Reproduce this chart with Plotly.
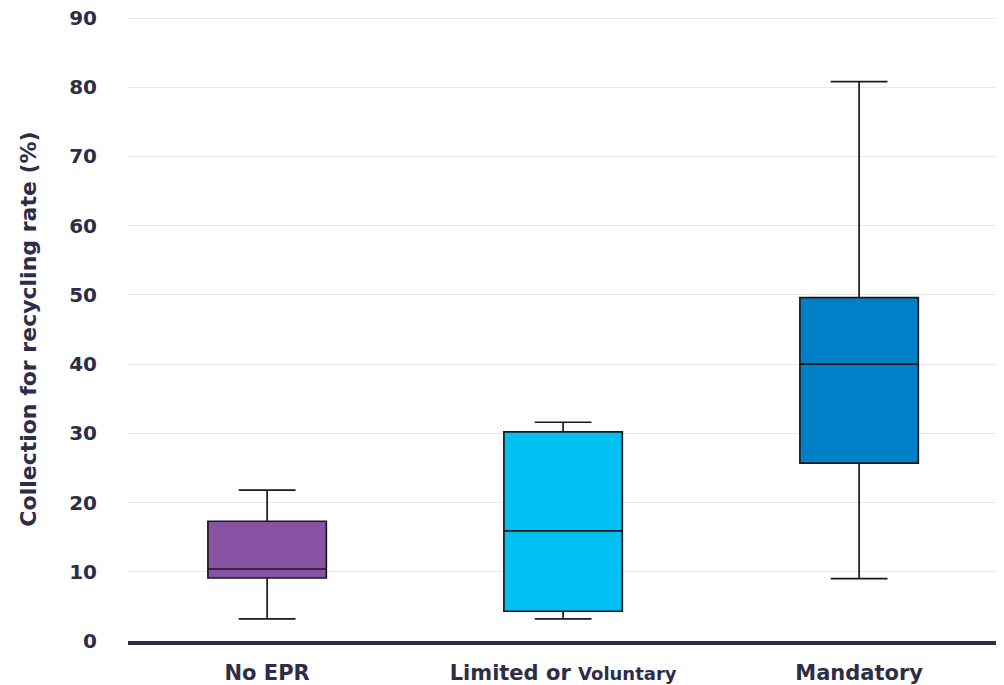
import plotly.graph_objects as go

categories = ["No EPR", "Limited or Voluntary", "Mandatory"]
tick_labels = ["No EPR", "Limited or <span style='font-size:18px'>Voluntary</span>", "Mandatory"]
y_ticks = [0, 10, 20, 30, 40, 50, 60, 70, 80, 90]
lower_whisker = [3.2, 3.2, 9.0]
q1_values = [9.1, 4.3, 25.7]
median_values = [10.4, 15.9, 40.0]
q3_values = [17.3, 30.2, 49.6]
upper_whisker = [21.8, 31.6, 80.8]
colors = ["#8853a2", "#00bff2", "#0080c6"]

text_color = "#2e2d48"
font_family = "'DejaVu Sans', sans-serif"

fig = go.Figure()
for i, cat in enumerate(categories):
    fig.add_trace(go.Box(
        x=[cat],
        q1=[q1_values[i]],
        median=[median_values[i]],
        q3=[q3_values[i]],
        lowerfence=[lower_whisker[i]],
        upperfence=[upper_whisker[i]],
        fillcolor=colors[i],
        line=dict(color="#1a1a1a", width=1.7),
        width=0.4,
        whiskerwidth=0.48,
        boxpoints=False,
        showlegend=False,
        hoverinfo="skip",
    ))

fig.update_layout(
    width=1004,
    height=685,
    margin=dict(l=120, r=12, t=9, b=52),
    paper_bgcolor="white",
    plot_bgcolor="white",
    font=dict(family=font_family, color=text_color),
    xaxis=dict(
        type="category",
        categoryorder="array",
        categoryarray=categories,
        tickmode="array",
        tickvals=categories,
        ticktext=tick_labels,
        range=[-0.47, 2.476],
        showgrid=False,
        showline=True,
        linecolor=text_color,
        linewidth=4,
        ticks="",
        automargin=False,
        ticklabelstandoff=10,
        ticklabeloverflow="allow",
        tickfont=dict(size=21, family=font_family, color=text_color, weight="bold"),
    ),
    yaxis=dict(
        range=[0, 90.15],
        tickvals=y_ticks,
        showgrid=True,
        gridcolor="#e9e9e9",
        gridwidth=1,
        zeroline=False,
        showline=False,
        ticks="",
        automargin=False,
        ticklabelstandoff=30,
        ticklabeloverflow="allow",
        tickfont=dict(size=20, family=font_family, color=text_color, weight="bold"),
        title=dict(
            text="Collection for recycling rate (%)",
            font=dict(size=22, family=font_family, color=text_color, weight="bold"),
            standoff=26,
        ),
    ),
)

fig.write_html("out.html")
